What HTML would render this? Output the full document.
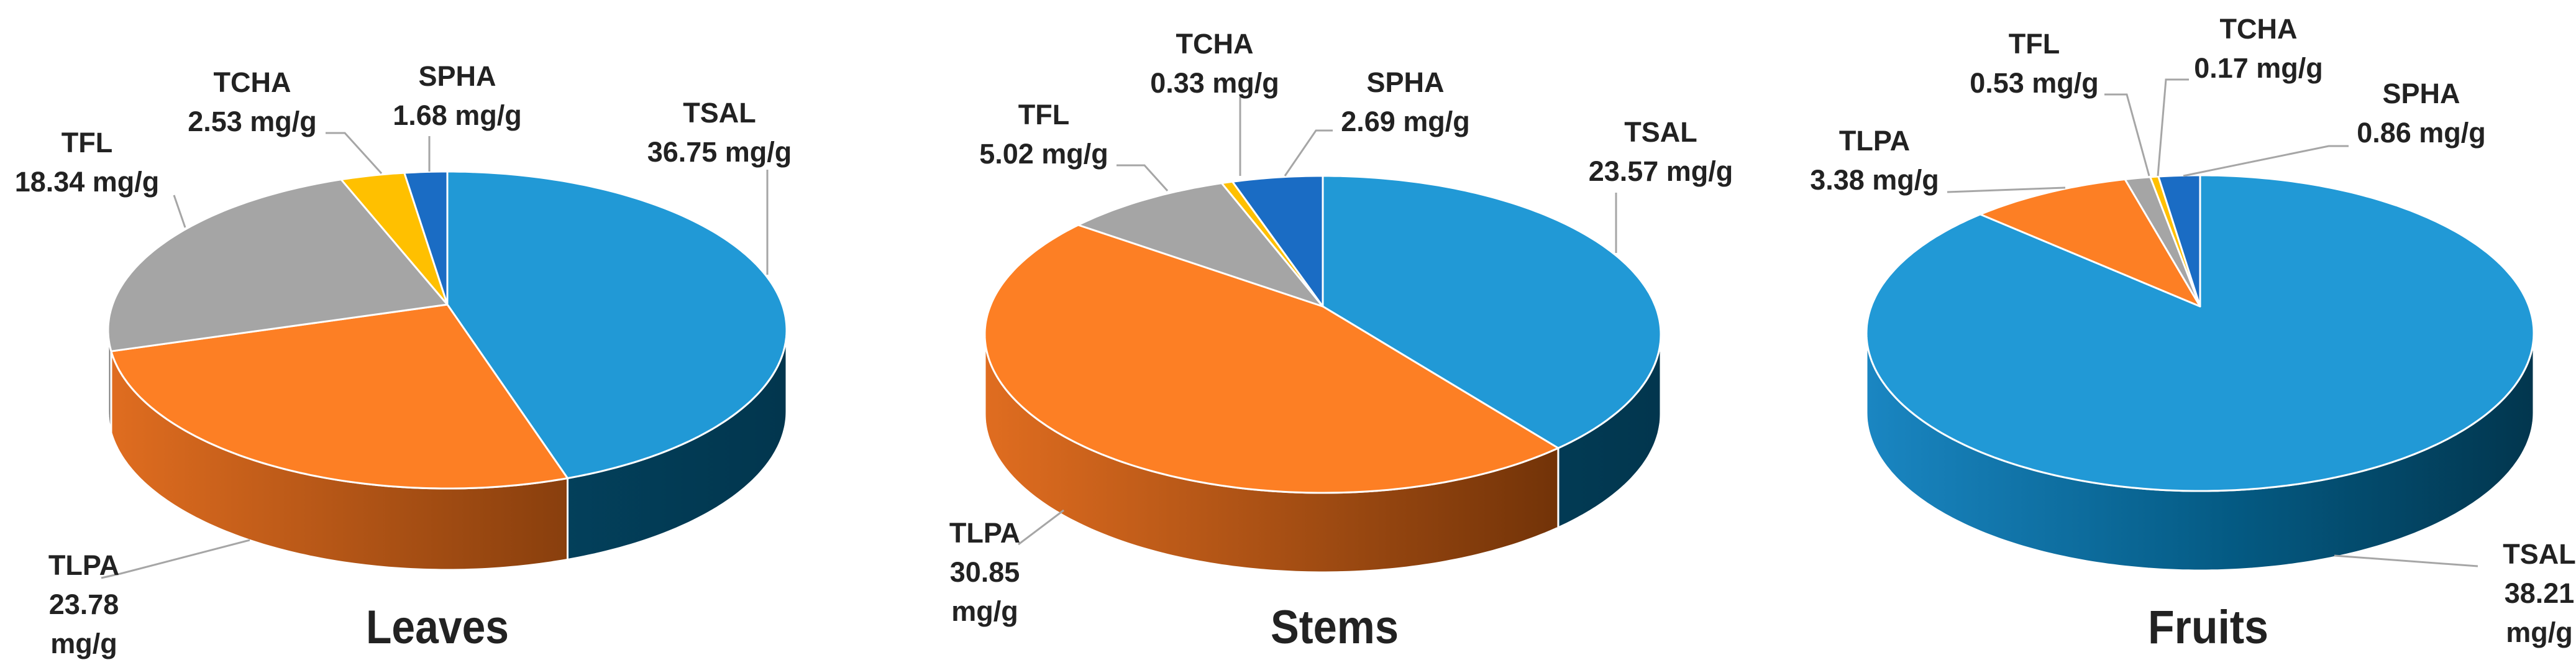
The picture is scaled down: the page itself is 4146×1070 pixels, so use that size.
<!DOCTYPE html>
<html><head><meta charset="utf-8"><style>
html,body{margin:0;padding:0;background:#fff}
svg{display:block}
text{font-family:"Liberation Sans",sans-serif;font-weight:bold;fill:#222}
</style></head><body>
<svg id="chart" width="4146" height="1070" viewBox="0 0 4146 1070">
<defs>
<linearGradient id="g0o" gradientUnits="userSpaceOnUse" x1="174" y1="0" x2="1266" y2="0"><stop offset="0" stop-color="#e06d20"/><stop offset="1" stop-color="#5f2904"/></linearGradient>
<linearGradient id="g0b" gradientUnits="userSpaceOnUse" x1="174" y1="0" x2="1266" y2="0"><stop offset="0" stop-color="#1c84bd"/><stop offset="0.6" stop-color="#03425e"/><stop offset="1" stop-color="#02364e"/></linearGradient>
<linearGradient id="g1o" gradientUnits="userSpaceOnUse" x1="1584" y1="0" x2="2672" y2="0"><stop offset="0" stop-color="#e06d20"/><stop offset="1" stop-color="#5f2904"/></linearGradient>
<linearGradient id="g1b" gradientUnits="userSpaceOnUse" x1="1584" y1="0" x2="2672" y2="0"><stop offset="0" stop-color="#1c84bd"/><stop offset="0.6" stop-color="#03425e"/><stop offset="1" stop-color="#02364e"/></linearGradient>
<linearGradient id="g2o" gradientUnits="userSpaceOnUse" x1="3004" y1="0" x2="4078" y2="0"><stop offset="0" stop-color="#e06d20"/><stop offset="1" stop-color="#5f2904"/></linearGradient>
<linearGradient id="g2b" gradientUnits="userSpaceOnUse" x1="3004" y1="0" x2="4078" y2="0"><stop offset="0" stop-color="#1a86c2"/><stop offset="0.55" stop-color="#045a83"/><stop offset="1" stop-color="#02364e"/></linearGradient>
</defs>
</svg>
<script>
const categories = ["TSAL","TLPA","TFL","TCHA","SPHA"];
const leavesValues = [36.75, 23.78, 18.34, 2.53, 1.68];
const stemsValues = [23.57, 30.85, 5.02, 0.33, 2.69];
const fruitsValues = [38.21, 3.38, 0.53, 0.17, 0.86];
const chartTitles = ["Leaves","Stems","Fruits"];

const svg = document.getElementById('chart');
const NS = 'http://www.w3.org/2000/svg';
const topColors = ["#2199d6","#fd7f24","#a5a5a5","#ffc000","#1a6cc4"];
const pies = [
  {cx:720, cy:531, rx:546, ry:255, ay:490, depth:131, values:leavesValues, grad:0,
   title:{x:704,y:1035,len:230},
   labels:[
     {lines:["TSAL","36.75 mg/g"],x:1158,y:197,leader:[[1235,273],[1235,442]]},
     {lines:["TLPA","23.78","mg/g"],x:135,y:925,leader:[[163,930],[194,923],[402,869]]},
     {lines:["TFL","18.34 mg/g"],x:140,y:245,leader:[[280,314],[298,366]]},
     {lines:["TCHA","2.53 mg/g"],x:406,y:148,leader:[[524,214],[555,214],[614,279]]},
     {lines:["SPHA","1.68 mg/g"],x:736,y:138,leader:[[691,219],[691,276]]}]},
  {cx:2129, cy:538, rx:544, ry:255, ay:493, depth:128, values:stemsValues, grad:1,
   title:{x:2148,y:1035,len:206},
   labels:[
     {lines:["TSAL","23.57 mg/g"],x:2673,y:228,leader:[[2601,310],[2601,407]]},
     {lines:["TLPA","30.85","mg/g"],x:1585,y:873,leader:[[1639,876],[1712,821]]},
     {lines:["TFL","5.02 mg/g"],x:1680,y:200,leader:[[1797,266],[1842,266],[1879,307]]},
     {lines:["TCHA","0.33 mg/g"],x:1955,y:86,leader:[[1996,155],[1996,283]]},
     {lines:["SPHA","2.69 mg/g"],x:2262,y:148,leader:[[2145,210],[2118,210],[2068,283]]}]},
  {cx:3541, cy:536, rx:537, ry:254, ay:493, depth:128, values:fruitsValues, grad:2,
   title:{x:3554,y:1035,len:194},
   labels:[
     {lines:["TSAL","38.21","mg/g"],x:4087,y:907,leader:[[3988,911],[3757,894]]},
     {lines:["TLPA","3.38 mg/g"],x:3017,y:242,leader:[[3134,309],[3324,302]]},
     {lines:["TFL","0.53 mg/g"],x:3274,y:86,leader:[[3387,152],[3423,152],[3459,283]]},
     {lines:["TCHA","0.17 mg/g"],x:3635,y:62,leader:[[3523,128],[3486,128],[3473,283]]},
     {lines:["SPHA","0.86 mg/g"],x:3897,y:166,leader:[[3780,235],[3748,235],[3514,283]]}]}
];

function pt(p, deg, dy){ const r = deg*Math.PI/180; return [p.cx + p.rx*Math.sin(r), p.cy - p.ry*Math.cos(r) + (dy||0)]; }
function arcPts(p, a, b, dy){ const out=[]; const n=Math.max(2,Math.ceil(Math.abs(b-a))); for(let i=0;i<=n;i++){ out.push(pt(p, a+(b-a)*i/n, dy)); } return out; }
function mk(tag, attrs){ const e=document.createElementNS(NS,tag); for(const k in attrs) e.setAttribute(k,attrs[k]); svg.appendChild(e); return e; }
function ptsStr(a){ return a.map(q=>q[0].toFixed(1)+','+q[1].toFixed(1)).join(' '); }

pies.forEach((p, pi) => {
  const total = p.values.reduce((s,v)=>s+v,0);
  const ranges=[]; let acc=0;
  p.values.forEach(v=>{ const a=acc/total*360; acc+=v; ranges.push([a, acc/total*360]); });
  // sides (front half: 90..270)
  ranges.forEach((r,i)=>{
    const a=Math.max(r[0],90), b=Math.min(r[1],270);
    if(b<=a) return;
    const top=arcPts(p,a,b,0), bot=arcPts(p,b,a,p.depth);
    let fill = i===0 ? 'url(#g'+p.grad+'b)' : (i===1 ? 'url(#g'+p.grad+'o)' : '#777');
    const side = mk('polygon',{points:ptsStr(top.concat(bot)), fill:fill, stroke:'#fff','stroke-width':3,'stroke-linejoin':'round'});
    
    
  });
  // top slices
  ranges.forEach((r,i)=>{
    const arc=arcPts(p,r[0],r[1],0);
    const sl = mk('polygon',{points:ptsStr([[p.cx,p.ay]].concat(arc)), fill:topColors[i], stroke:'#fff','stroke-width':3,'stroke-linejoin':'round'});
    
    
  });
  // labels
  p.labels.forEach((L,i)=>{
    const ln = mk('polyline',{points:ptsStr(L.leader), fill:'none', stroke:'#a6a6a6','stroke-width':3});
    
    
    L.lines.forEach((s,k)=>{
      const t = mk('text',{x:L.x, y:L.y + k*63, 'text-anchor':'middle','font-size':45});
      t.textContent = s;
      
      
    });
  });
  const tt = mk('text',{x:p.title.x, y:p.title.y, 'text-anchor':'middle','font-size':76, textLength:p.title.len, lengthAdjust:'spacingAndGlyphs', fill:'#000'});
  tt.textContent = chartTitles[pi];
  
  
});
</script>
</body></html>
